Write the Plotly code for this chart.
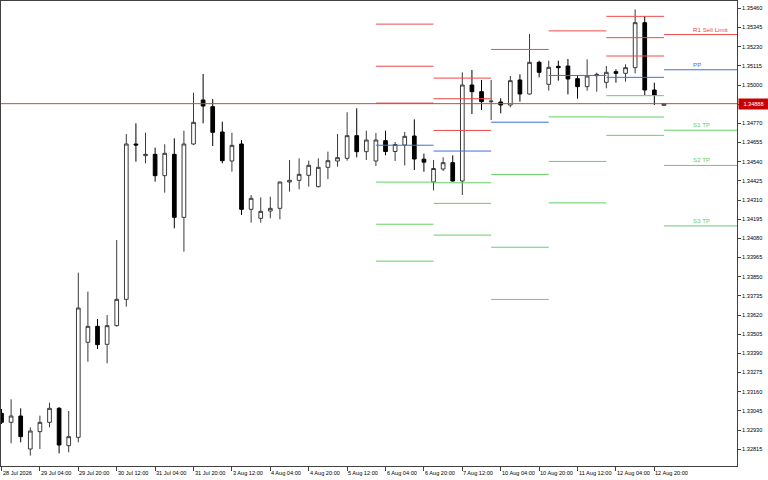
import plotly.graph_objects as go

# ---------------- data (H4 candles, 28 Jul 12:00 .. 13 Aug 00:00) ----------------
opens = [1.33030, 1.32976, 1.33014, 1.32816, 1.32920, 1.32976, 1.33060, 1.32836, 1.32886, 1.33456,
         1.33552, 1.33444, 1.33556, 1.33714, 1.34646, 1.34576, 1.34584, 1.34456, 1.34584, 1.34206,
         1.34646, 1.34910, 1.34870, 1.34718, 1.34544, 1.34646, 1.34254, 1.34200, 1.34244, 1.34260,
         1.34418, 1.34428, 1.34458, 1.34390, 1.34506, 1.34544, 1.34560, 1.34696, 1.34600, 1.34544,
         1.34666, 1.34601, 1.34640, 1.34694, 1.34555, 1.34418, 1.34496, 1.34534, 1.34424, 1.35000,
         1.34960, 1.34900, 1.34898, 1.34880, 1.35030, 1.34946, 1.35136, 1.35004, 1.35112, 1.35114,
         1.35038, 1.34990, 1.35056, 1.35016, 1.35080, 1.35070, 1.35104, 1.35374, 1.34970, 1.34878]

highs = [1.33056, 1.33114, 1.33060, 1.32946, 1.33016, 1.33094, 1.33068, 1.33044, 1.33874, 1.33760,
         1.33596, 1.33620, 1.34070, 1.34706, 1.34770, 1.34714, 1.34624, 1.34644, 1.34680, 1.34726,
         1.34954, 1.35066, 1.34916, 1.34780, 1.34714, 1.34670, 1.34340, 1.34326, 1.34330, 1.34420,
         1.34550, 1.34560, 1.34546, 1.34560, 1.34600, 1.34706, 1.34836, 1.34860, 1.34726, 1.34712,
         1.34726, 1.34658, 1.34718, 1.34794, 1.34588, 1.34550, 1.34566, 1.34578, 1.35076, 1.35090,
         1.35030, 1.35030, 1.34920, 1.35054, 1.35064, 1.35306, 1.35146, 1.35146, 1.35146, 1.35156,
         1.35060, 1.35154, 1.35074, 1.35114, 1.35094, 1.35124, 1.35454, 1.35414, 1.35014, 1.34890]

lows = [1.32966, 1.32850, 1.32856, 1.32776, 1.32816, 1.32946, 1.32790, 1.32796, 1.32856, 1.33340,
        1.33416, 1.33330, 1.33551, 1.33670, 1.34540, 1.34530, 1.34420, 1.34354, 1.34140, 1.34000,
        1.34640, 1.34770, 1.34634, 1.34530, 1.34480, 1.34220, 1.34174, 1.34174, 1.34200, 1.34194,
        1.34360, 1.34374, 1.34390, 1.34386, 1.34436, 1.34510, 1.34546, 1.34566, 1.34550, 1.34514,
        1.34578, 1.34544, 1.34517, 1.34490, 1.34480, 1.34367, 1.34484, 1.34421, 1.34340, 1.34826,
        1.34850, 1.34790, 1.34830, 1.34866, 1.34900, 1.34943, 1.35046, 1.34966, 1.35026, 1.34944,
        1.34918, 1.34966, 1.34960, 1.34980, 1.35014, 1.35020, 1.35070, 1.34940, 1.34880, 1.34877]

closes = [1.32976, 1.33014, 1.32890, 1.32924, 1.32976, 1.33060, 1.32840, 1.32890, 1.33662, 1.33552,
          1.33442, 1.33556, 1.33714, 1.34646, 1.34640, 1.34584, 1.34456, 1.34590, 1.34206, 1.34646,
          1.34776, 1.34874, 1.34716, 1.34546, 1.34638, 1.34254, 1.34320, 1.34242, 1.34260, 1.34418,
          1.34428, 1.34464, 1.34518, 1.34506, 1.34546, 1.34564, 1.34696, 1.34600, 1.34670, 1.34670,
          1.34601, 1.34643, 1.34692, 1.34556, 1.34537, 1.34499, 1.34534, 1.34424, 1.35000, 1.34960,
          1.34900, 1.34903, 1.34880, 1.35026, 1.34946, 1.35136, 1.35076, 1.35106, 1.35104, 1.35036,
          1.34990, 1.35054, 1.35064, 1.35076, 1.35070, 1.35104, 1.35374, 1.34970, 1.34940, 1.34888]

x_tick_index = [0, 4, 8, 12, 16, 20, 24, 28, 32, 36, 40, 44, 48, 52, 56, 60, 64, 68]
x_tick_labels = ["28 Jul 2026", "29 Jul 04:00", "29 Jul 20:00", "30 Jul 12:00", "31 Jul 04:00",
                 "31 Jul 20:00", "3 Aug 12:00", "4 Aug 04:00", "4 Aug 20:00", "5 Aug 12:00",
                 "6 Aug 04:00", "6 Aug 20:00", "7 Aug 12:00", "10 Aug 04:00", "10 Aug 20:00",
                 "11 Aug 12:00", "12 Aug 04:00", "12 Aug 20:00"]

y_tick_values = [1.32815, 1.32930, 1.33045, 1.33160, 1.33275, 1.33390, 1.33505, 1.33620,
                 1.33735, 1.33850, 1.33965, 1.34080, 1.34195, 1.34310, 1.34425, 1.34540,
                 1.34655, 1.34770, 1.34885, 1.35000, 1.35115, 1.35230, 1.35345, 1.35460]

# first candle index of each day that shows daily pivot levels
pivot_day_start = [39, 45, 51, 57, 63, 69]
candles_per_day = 6
last_day_labels = {"R1": "R1 Sell Limit", "PP": "PP", "S1": "S1 TP", "S2": "S2 TP", "S3": "S3 TP"}

# ---------------- styling ----------------
RED = "#f04a4a"
BLUE = "#3f6fdc"
GREEN = "#66d066"
FONT = "Liberation Sans, Arial, sans-serif"
AXIS_FONT_SIZE = 5.6
X_MIN, X_MAX = -0.052, 76.61
Y_MIN, Y_MAX = 1.32714, 1.35504

n = len(closes)
xs = list(range(n))

fig = go.Figure()

# pivot levels
seg = {"R": ([], []), "P": ([], []), "S": ([], [])}
last_levels = {}
for k, s in enumerate(pivot_day_start):
    H = max(highs[s - candles_per_day:s])
    L = min(lows[s - candles_per_day:s])
    C = closes[s - 1]
    P = (H + L + C) / 3
    lv = {"R3": H + 2 * (P - L), "R2": P + (H - L), "R1": 2 * P - L, "PP": P,
          "S1": 2 * P - H, "S2": P - (H - L), "S3": L - 2 * (H - P)}
    x0 = s
    x1 = pivot_day_start[k + 1] if k + 1 < len(pivot_day_start) else X_MAX + 1
    for name, val in lv.items():
        key = "P" if name == "PP" else name[0]
        seg[key][0].extend([x0, x1, None])
        seg[key][1].extend([val, val, None])
    last_levels = lv

for key, col in (("R", RED), ("P", BLUE), ("S", GREEN)):
    fig.add_trace(go.Scatter(x=seg[key][0], y=seg[key][1], mode="lines",
                             line=dict(color=col, width=1), hoverinfo="skip"))

# current price line
price = closes[-1]
fig.add_trace(go.Scatter(x=[X_MIN - 1, X_MAX + 1], y=[price, price], mode="lines",
                         line=dict(color="#c84646", width=1), hoverinfo="skip"))

# candles
fig.add_trace(go.Candlestick(
    x=xs, open=opens, high=highs, low=lows, close=closes,
    increasing=dict(line=dict(color="#3a3a3a", width=1), fillcolor="white"),
    decreasing=dict(line=dict(color="#000000", width=1), fillcolor="black"),
    whiskerwidth=0,
))

annotations = []
# labels of last day levels
for name, text in last_day_labels.items():
    col = RED if name.startswith("R") else (BLUE if name == "PP" else GREEN)
    annotations.append(dict(x=pivot_day_start[-1] + 2.8, y=last_levels[name], xref="x", yref="y",
                            text=text, showarrow=False, xanchor="left", yanchor="bottom",
                            yshift=0, font=dict(family=FONT, size=6.2, color=col)))

# x tick labels (left aligned at tick)
for i, lab in zip(x_tick_index, x_tick_labels):
    annotations.append(dict(x=i, y=0, xref="x", yref="paper", text=lab, showarrow=False,
                            xanchor="left", yanchor="top", xshift=-1, yshift=-2,
                            font=dict(family=FONT, size=AXIS_FONT_SIZE, color="#000000")))

# current price tag
annotations.append(dict(x=1, y=price, xref="paper", yref="y", text=f"{price:.5f}",
                        showarrow=False, xanchor="left", yanchor="middle", xshift=1,
                        bgcolor="#c80000", width=27, height=8, borderpad=1,
                        font=dict(family=FONT, size=AXIS_FONT_SIZE, color="white")))

fig.update_layout(
    width=768, height=480,
    margin=dict(l=1, r=31, t=1, b=14),
    paper_bgcolor="white", plot_bgcolor="white",
    showlegend=False, boxgap=0.45,
    annotations=annotations,
    xaxis=dict(range=[X_MIN, X_MAX], showgrid=False, zeroline=False,
               rangeslider=dict(visible=False), showline=True, mirror=True,
               linecolor="#404040", linewidth=1,
               tickvals=x_tick_index, ticktext=[""] * len(x_tick_index),
               ticks="outside", ticklen=4, tickcolor="#404040"),
    yaxis=dict(range=[Y_MIN, Y_MAX], side="right", showgrid=False, zeroline=False,
               showline=True, mirror=True, linecolor="#404040", linewidth=1,
               tickvals=y_tick_values, ticktext=[f"{v:.5f}" for v in y_tick_values],
               ticks="outside", ticklen=3, tickcolor="#404040",
               tickfont=dict(family=FONT, size=AXIS_FONT_SIZE, color="#000000")),
)

fig.write_html("out.html", config={"displayModeBar": False},
               post_script="document.body.style.margin='0';")
